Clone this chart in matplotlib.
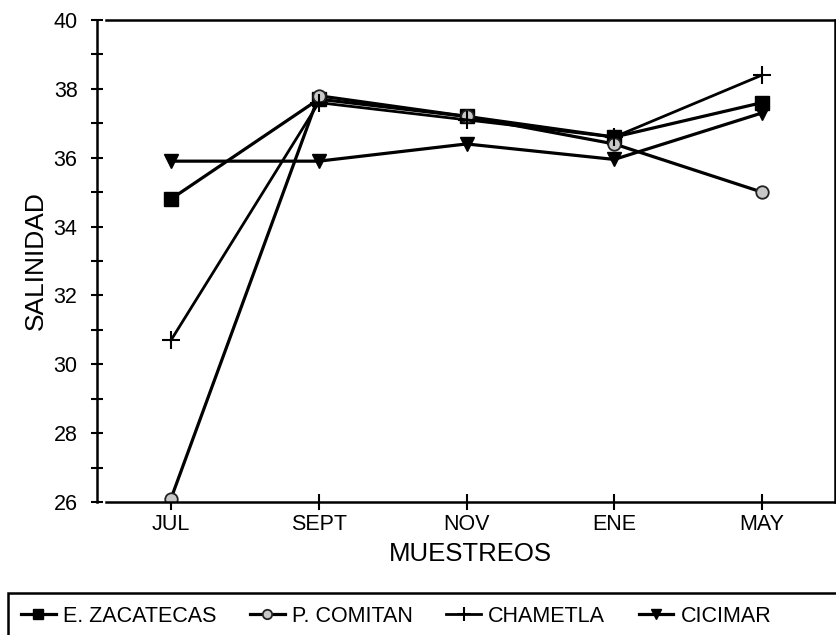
import matplotlib
matplotlib.use("Agg")
import matplotlib.pyplot as plt
from matplotlib.ticker import MultipleLocator
from matplotlib.patches import Rectangle

plt.rcParams['font.family'] = ['Liberation Sans', 'DejaVu Sans']

months = ["JUL", "SEPT", "NOV", "ENE", "MAY"]
zacatecas = [34.8, 37.7, 37.2, 36.6, 37.6]
comitan = [26.1, 37.8, 37.2, 36.4, 35.0]
chametla = [30.7, 37.6, 37.1, 36.6, 38.4]
cicimar = [35.9, 35.9, 36.4, 35.95, 37.3]

W, H = 836, 635
fig = plt.figure(figsize=(W / 100, H / 100), dpi=100)
ax = fig.add_axes([106 / W, 1 - 502 / H, (835 - 106) / W, (502 - 20) / H])

x = list(range(len(months)))
lw = 2.3
ax.plot(x, zacatecas, color='black', lw=lw, marker='s', ms=10, mfc='black', mec='black', label='E. ZACATECAS')
ax.plot(x, comitan, color='black', lw=lw, marker='o', ms=9, mfc='#c8c8c8', mec='#222222', mew=1.3, label='P. COMITAN')
ax.plot(x, chametla, color='black', lw=2.0, marker='+', ms=13, mew=1.5, label='CHAMETLA')
ax.plot(x, cicimar, color='black', lw=lw, marker='v', ms=10, mfc='black', mec='black', label='CICIMAR')

ax.set_xlim(-0.44, 4.494)
ax.set_ylim(26, 40)
ax.set_xticks(x)
ax.set_xticklabels(months)
ax.yaxis.set_major_locator(MultipleLocator(2))
ax.yaxis.set_minor_locator(MultipleLocator(1))
ax.tick_params(axis='x', which='major', direction='inout', length=12, width=1.5, labelsize=15.5, pad=3)
ax.tick_params(axis='y', which='major', direction='inout', length=8, width=1.5, labelsize=15.5, pad=10)
ax.tick_params(axis='y', which='minor', direction='inout', length=8, width=1.5)
for s in ax.spines.values():
    s.set_linewidth(1.8)
ax.spines['left'].set_position(('outward', 6.5))

ax.set_xlabel("MUESTREOS", fontsize=18.5, labelpad=5)
ax.set_ylabel("SALINIDAD", fontsize=19, labelpad=4)

# legend frame extending past the right and bottom edges
fig.patches.append(Rectangle((8 / W, -0.05), 1.0, 1.05 - 593 / H, transform=fig.transFigure,
                             fill=False, edgecolor='black', linewidth=1.8))
leg = fig.legend(loc='center left', bbox_to_anchor=(4 / W, 1 - 616 / H), ncol=4,
                 frameon=False, fontsize=15.5, handlelength=1.6,
                 columnspacing=1.55, handletextpad=0.35, borderpad=0.3,
                 markerscale=0.75)

fig.savefig("out.png", dpi=100)
